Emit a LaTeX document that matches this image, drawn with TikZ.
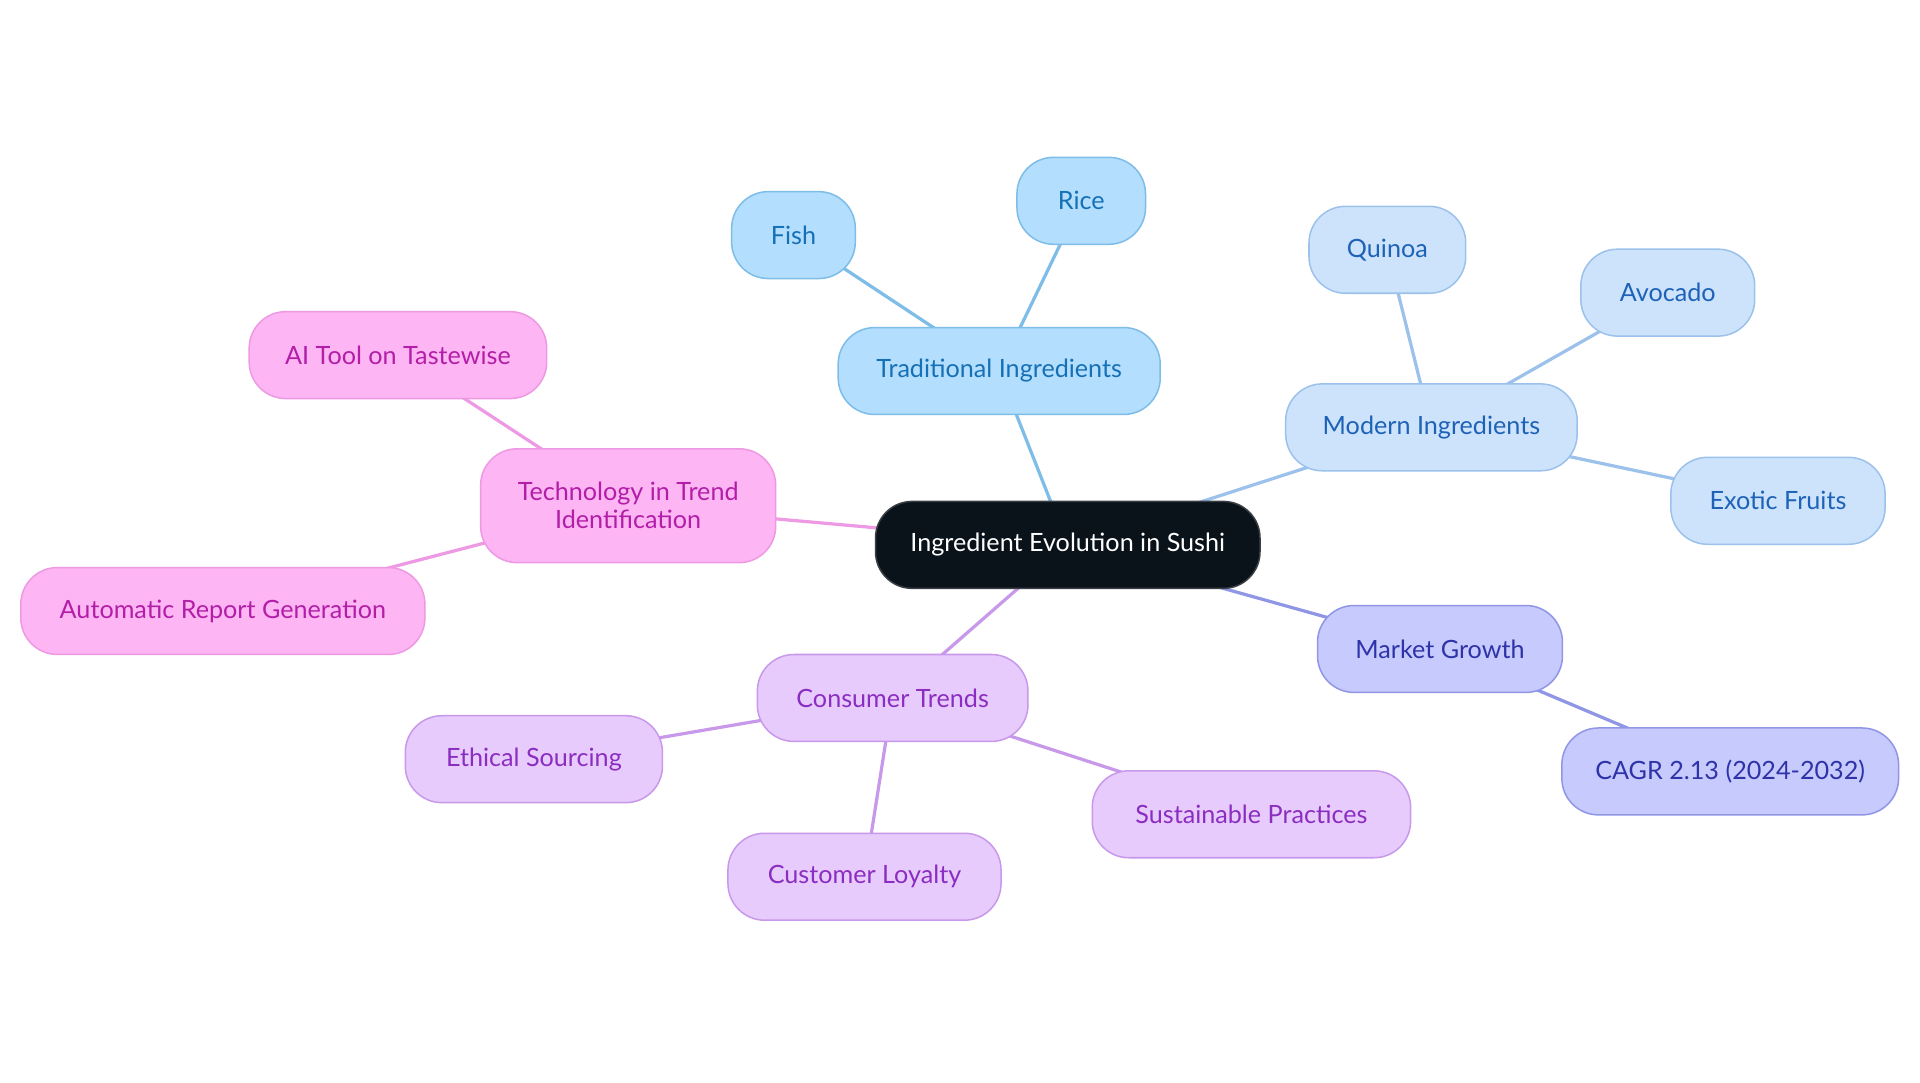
\documentclass[tikz,border=0pt]{standalone}
\usepackage{fontspec}
\setmainfont{Lato}
\usetikzlibrary{backgrounds}
\definecolor{rootfill}{HTML}{0B131A}
\definecolor{rootdraw}{HTML}{3A3F45}
\definecolor{tfill}{HTML}{B3DEFD}
\definecolor{tdraw}{HTML}{7DBDE8}
\definecolor{ttext}{HTML}{1670B5}
\definecolor{mfill}{HTML}{CCE3FB}
\definecolor{mdraw}{HTML}{9CC2EC}
\definecolor{mtext}{HTML}{1E62B8}
\definecolor{gfill}{HTML}{C7CAFD}
\definecolor{gdraw}{HTML}{9096E6}
\definecolor{gtext}{HTML}{2E33A8}
\definecolor{cfill}{HTML}{E8CBFD}
\definecolor{cdraw}{HTML}{C899EA}
\definecolor{ctext}{HTML}{8A2DC0}
\definecolor{pfill}{HTML}{FDB5F3}
\definecolor{pdraw}{HTML}{EE99E3}
\definecolor{ptext}{HTML}{B21EA8}
\tikzset{
  x=0.02cm, y=-0.02cm,
  pill/.style={rounded corners=17pt, minimum height=1.42cm, inner sep=2pt, align=center, font=\fontsize{11.7}{13}\selectfont, line width=0.7pt},
  rootbox/.style={pill, fill=rootfill, draw=rootdraw, text=white},
  tradbox/.style={pill, fill=tfill, draw=tdraw, text=ttext},
  modnbox/.style={pill, fill=mfill, draw=mdraw, text=mtext},
  growbox/.style={pill, fill=gfill, draw=gdraw, text=gtext},
  consbox/.style={pill, fill=cfill, draw=cdraw, text=ctext},
  techbox/.style={pill, fill=pfill, draw=pdraw, text=ptext},
  link/.style={line width=1.5pt},
}
\begin{document}
\begin{tikzpicture}
\useasboundingbox (0,0) rectangle (1568,884);
\node[rootbox, minimum width=314*0.02cm] (root) at (872,445) {Ingredient Evolution in Sushi};
\node[tradbox, minimum width=263*0.02cm] (trad) at (816,303) {Traditional Ingredients};
\node[tradbox, minimum width=101*0.02cm] (fish) at (648,192) {Fish};
\node[tradbox, minimum width=105*0.02cm] (rice) at (883,164) {Rice};
\node[modnbox, minimum width=238*0.02cm] (modn) at (1169,349) {Modern Ingredients};
\node[modnbox, minimum width=128*0.02cm] (quinoa) at (1133,204) {Quinoa};
\node[modnbox, minimum width=142*0.02cm] (avocado) at (1362,239) {Avocado};
\node[modnbox, minimum width=175*0.02cm] (exotic) at (1452,409) {Exotic Fruits};
\node[growbox, minimum width=200*0.02cm] (market) at (1176,530) {Market Growth};
\node[growbox, minimum width=275*0.02cm] (cagr) at (1413,630) {CAGR 2.13 (2024-2032)};
\node[consbox, minimum width=221*0.02cm] (cons) at (729,570) {Consumer Trends};
\node[consbox, minimum width=210*0.02cm] (ethical) at (436,620) {Ethical Sourcing};
\node[consbox, minimum width=223*0.02cm] (loyalty) at (706,716) {Customer Loyalty};
\node[consbox, minimum width=260*0.02cm] (sustain) at (1022,665) {Sustainable Practices};
\node[techbox, minimum width=241*0.02cm, minimum height=93*0.02cm] (tech) at (513,413) {Technology in Trend\\Identification};
\node[techbox, minimum width=243*0.02cm] (aitool) at (325,290) {AI Tool on Tastewise};
\node[techbox, minimum width=330*0.02cm] (auto) at (182,499) {Automatic Report Generation};
\begin{scope}[on background layer]
\fill[white] (0,0) rectangle (1568,884);
\draw[link, draw=tdraw] (root.center) -- (trad.center);
\draw[link, draw=tdraw] (trad.center) -- (fish.center);
\draw[link, draw=tdraw] (trad.center) -- (rice.center);
\draw[link, draw=mdraw] (root.center) -- (modn.center);
\draw[link, draw=mdraw] (modn.center) -- (quinoa.center);
\draw[link, draw=mdraw] (modn.center) -- (avocado.center);
\draw[link, draw=mdraw] (modn.center) -- (exotic.center);
\draw[link, draw=gdraw] (root.center) -- (market.center);
\draw[link, draw=gdraw] (market.center) -- (cagr.center);
\draw[link, draw=cdraw] (root.center) -- (cons.center);
\draw[link, draw=cdraw] (cons.center) -- (ethical.center);
\draw[link, draw=cdraw] (cons.center) -- (loyalty.center);
\draw[link, draw=cdraw] (cons.center) -- (sustain.center);
\draw[link, draw=pdraw] (root.center) -- (tech.center);
\draw[link, draw=pdraw] (tech.center) -- (aitool.center);
\draw[link, draw=pdraw] (tech.center) -- (auto.center);
\end{scope}
\end{tikzpicture}
\end{document}
